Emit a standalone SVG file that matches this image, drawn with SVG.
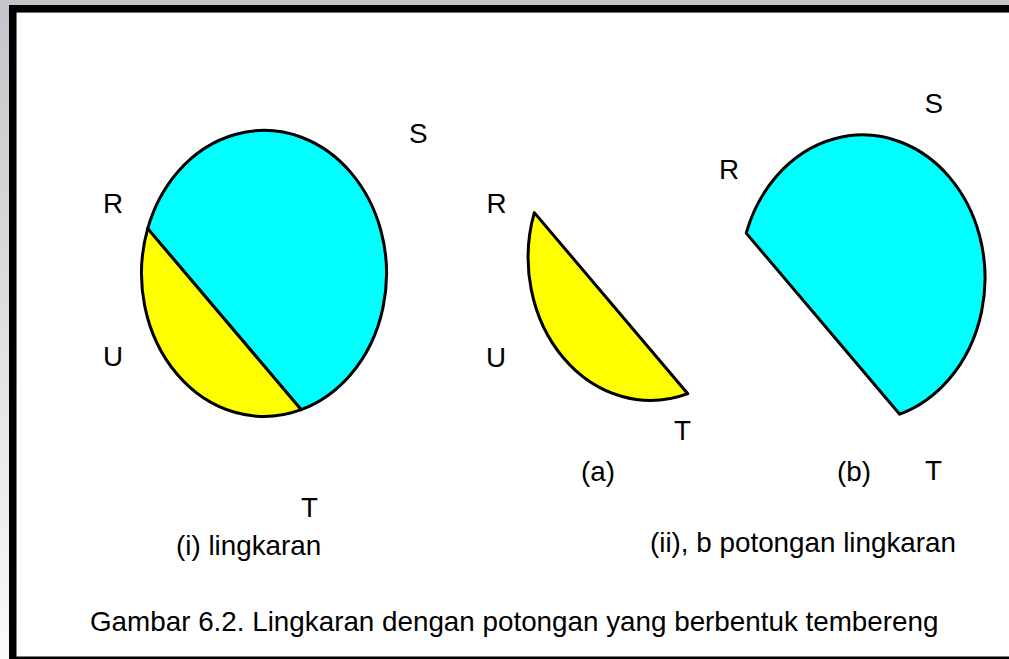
<svg xmlns="http://www.w3.org/2000/svg" width="1009" height="659" viewBox="0 0 1009 659">
<defs>
<linearGradient id="bg" x1="0" y1="0" x2="0" y2="1">
<stop offset="0" stop-color="#c4c5ca"/>
<stop offset="1" stop-color="#fafafa"/>
</linearGradient>
<path id="segY" d="M147.7,228.6 A122.5,143 0 0 0 301.2,409.7 Z"/>
<path id="segC" d="M147.7,228.6 A122.5,143 0 1 1 301.2,409.7 Z"/>
</defs>
<style>
.yel{fill:#ffff00;stroke:#000;stroke-width:3;stroke-linejoin:round}
.cya{fill:#00ffff;stroke:#000;stroke-width:3;stroke-linejoin:round}
.frm{fill:#000}
text{font-family:"Liberation Sans",Arial,sans-serif;font-size:27.8px;fill:#000}
</style>
<rect x="0" y="0" width="1009" height="659" fill="url(#bg)"/>
<rect x="16.5" y="12.5" width="992.5" height="644" fill="#fff"/>
<rect class="frm" x="9" y="5" width="1000" height="7.5"/>
<rect class="frm" x="9" y="5" width="7.5" height="654"/>
<rect class="frm" x="9" y="656.5" width="1000" height="2.5"/>

<g id="circle-i">
<use href="#segC" class="cya"/>
<use href="#segY" class="yel"/>
</g>
<g id="piece-a" transform="translate(386.6,-16)">
<use href="#segY" class="yel"/>
</g>
<g id="piece-b" transform="translate(598.5,4.5)">
<use href="#segC" class="cya"/>
</g>
<g id="connectors"></g>

<g id="labels-i">
<text x="409" y="142.7">S</text>
<text x="103" y="213">R</text>
<text x="103" y="366">U</text>
<text x="301" y="516.5">T</text>
<text x="176" y="555">(i) lingkaran</text>
</g>
<g id="labels-a">
<text x="486.5" y="213">R</text>
<text x="486" y="366.5">U</text>
<text x="674" y="440">T</text>
<text x="581" y="481">(a)</text>
</g>
<g id="labels-b">
<text x="924.5" y="113">S</text>
<text x="719" y="179">R</text>
<text x="837" y="481">(b)</text>
<text x="925" y="480">T</text>
<text x="650" y="552">(ii), b potongan lingkaran</text>
</g>
<g id="caption">
<text x="90" y="631">Gambar 6.2. Lingkaran dengan potongan yang berbentuk tembereng</text>
</g>
</svg>
